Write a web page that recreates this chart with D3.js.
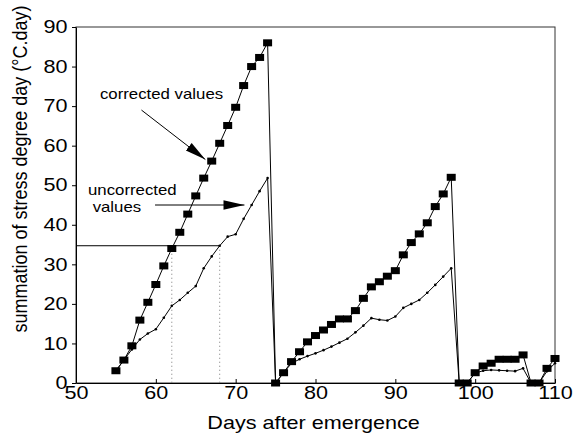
<!DOCTYPE html>
<html lang="en">
<head>
    <meta charset="UTF-8">
    <title>stress degree day</title>
    <script src="https://d3js.org/d3.v7.min.js"></script>
    <style>
        body { margin: 0; background: #fff; }
        text { font-family: "Liberation Sans", Arial, sans-serif; fill: #000; }
    </style>
</head>
<body>
    <div class="canvas"></div>
    <script>
      // days 55..110, one reading per day
      const days = d3.range(55, 111);
      const corrected = [
        3.1, 5.8, 9.4, 15.9, 20.4, 24.9, 29.6, 34.0, 38.1, 42.7,
        47.3, 51.8, 56.1, 60.6, 65.1, 69.7, 75.2, 80.0, 82.3, 86.0,
        0, 2.6, 5.4, 7.9, 10.4, 12.0, 13.4, 14.8, 16.2, 16.2,
        18.3, 21.4, 24.3, 25.6, 27.0, 28.4, 32.4, 35.5, 37.7, 40.5,
        44.6, 47.8, 52.0, 0, 0, 2.6, 4.3, 5.0, 6.0, 6.0,
        6.0, 7.1, 0, 0, 3.7, 6.2
      ];
      const uncorrected = [
        3.1, 5.8, 8.5, 11.0, 12.5, 13.6, 16.5, 19.5, 21.0, 22.8,
        24.5, 29.0, 32.0, 34.7, 37.0, 37.6, 41.5, 45.0, 48.5, 51.8,
        0, 2.6, 5.0, 6.0, 6.8, 7.5, 8.3, 9.2, 10.2, 11.2,
        12.8, 14.5, 16.4, 16.0, 15.8, 16.8, 19.0, 20.0, 21.0, 22.8,
        24.8, 26.9, 29.0, 0, 0, 2.5, 3.1, 3.3, 3.2, 3.1,
        3.0, 3.7, 0, 0, 3.0, 5.0
      ];
      const xTicks = [50, 60, 70, 80, 90, 100, 110];
      const yTicks = [0, 10, 20, 30, 40, 50, 60, 70, 80, 90];
      const refLevel = 34.7;
      const refDays = [62, 68];

      const width = 575;
      const height = 440;
      const [mt, mr, mb, ml] = [27, 20, 57, 76];
      const graphWidth = width - ml - mr;
      const graphHeight = height - mt - mb;
      const stretch = 1.2;   // scanned lettering is wider than it is tall

      const svg = d3.select('.canvas')
                    .append('svg')
                    .attr('width', width)
                    .attr('height', height);

      svg.append('defs').append('marker')
         .attr('id', 'head')
         .attr('markerUnits', 'userSpaceOnUse')
         .attr('markerWidth', 22).attr('markerHeight', 12)
         .attr('viewBox', '0 -5 21 10')
         .attr('refX', 20).attr('refY', 0)
         .attr('orient', 'auto')
         .append('path')
         .attr('d', 'M0,-4.5L20,0L0,4.5Z')
         .attr('fill', '#000');

      const graph = svg.append('g')
                       .attr('transform', `translate(${ml}, ${mt})`);

      const x = d3.scaleLinear().domain([50, 110]).range([0, graphWidth]);
      const y = d3.scaleLinear().domain([0, 90]).range([graphHeight, 0]);

      // frame
      graph.append('rect')
           .attr('width', graphWidth).attr('height', graphHeight)
           .attr('fill', 'none').attr('stroke', '#333').attr('stroke-width', 1);

      const xAxis = d3.axisBottom(x).tickValues(xTicks).tickSizeInner(-4).tickSizeOuter(0).tickPadding(3);
      const yAxis = d3.axisLeft(y).tickValues(yTicks).tickSizeInner(4).tickSizeOuter(0).tickPadding(3);

      const xAxisG = graph.append('g')
                          .attr('transform', `translate(0, ${graphHeight})`)
                          .call(xAxis);
      const yAxisG = graph.append('g').call(yAxis);

      [xAxisG, yAxisG].forEach(g => {
        g.select('.domain').attr('stroke', '#000');
        g.selectAll('.tick line').attr('stroke', '#000');
        g.selectAll('.tick text')
         .attr('font-size', 18)
         .attr('font-family', '"Liberation Sans", Arial, sans-serif')
         .attr('fill', '#000')
         .attr('transform', `scale(${stretch},1)`);
      });

      // reference lines at 35 degree days
      graph.append('line')
           .attr('x1', 0).attr('x2', x(refDays[1]))
           .attr('y1', y(refLevel)).attr('y2', y(refLevel))
           .attr('stroke', '#000').attr('stroke-width', 1);
      graph.selectAll('.drop').data(refDays).enter()
           .append('line')
           .attr('x1', d => x(d)).attr('x2', d => x(d))
           .attr('y1', y(refLevel)).attr('y2', y(0))
           .attr('stroke', '#777').attr('stroke-width', 1)
           .attr('stroke-dasharray', '1,3');

      const rows = days.map((d, i) => ({ day: d, c: corrected[i], u: uncorrected[i] }));

      const lineU = d3.line().x(d => x(d.day)).y(d => y(d.u));
      const lineC = d3.line().x(d => x(d.day)).y(d => y(d.c));

      graph.append('path')
           .attr('fill', 'none').attr('stroke', '#000').attr('stroke-width', 1)
           .attr('d', lineU(rows));
      graph.selectAll('.dotU').data(rows).enter()
           .append('circle')
           .attr('cx', d => x(d.day)).attr('cy', d => y(d.u))
           .attr('r', 1.3).attr('fill', '#000');

      graph.append('path')
           .attr('fill', 'none').attr('stroke', '#000').attr('stroke-width', 1)
           .attr('d', lineC(rows));
      graph.selectAll('.sq').data(rows).enter()
           .append('rect')
           .attr('x', d => x(d.day) - 4.5).attr('y', d => y(d.c) - 3.5)
           .attr('width', 9).attr('height', 7)
           .attr('fill', '#000');

      // annotations (data coordinates)
      const notes = [
        { lines: ['corrected values'], day: 53.0, val: 71.7, from: [58.2, 69.0], to: [66.2, 56.5] },
        { lines: ['uncorrected', ' values'], day: 51.5, val: 47.5, from: [59.9, 45.0], to: [71.1, 45.0] }
      ];
      notes.forEach(n => {
        n.lines.forEach((t, k) => {
          graph.append('text')
               .attr('transform', `translate(${x(n.day)}, ${y(n.val) + k * 17}) scale(${stretch},1)`)
               .attr('font-size', 14)
               .style('white-space', 'pre')
               .text(t);
        });
        graph.append('line')
             .attr('x1', x(n.from[0])).attr('y1', y(n.from[1]))
             .attr('x2', x(n.to[0])).attr('y2', y(n.to[1]))
             .attr('stroke', '#000').attr('stroke-width', 1)
             .attr('marker-end', 'url(#head)');
      });

      // axis titles
      svg.append('text')
         .attr('transform', `translate(${ml + graphWidth / 2 - 2}, 429) scale(${stretch},1)`)
         .attr('text-anchor', 'middle')
         .attr('font-size', 18)
         .text('Days after emergence');

      svg.append('text')
         .attr('transform', 'translate(27, 169) rotate(-90) scale(1,1.15)')
         .attr('text-anchor', 'middle')
         .attr('font-size', 18)
         .text('summation of stress degree day (°C.day)');
    </script>
</body>
</html>
